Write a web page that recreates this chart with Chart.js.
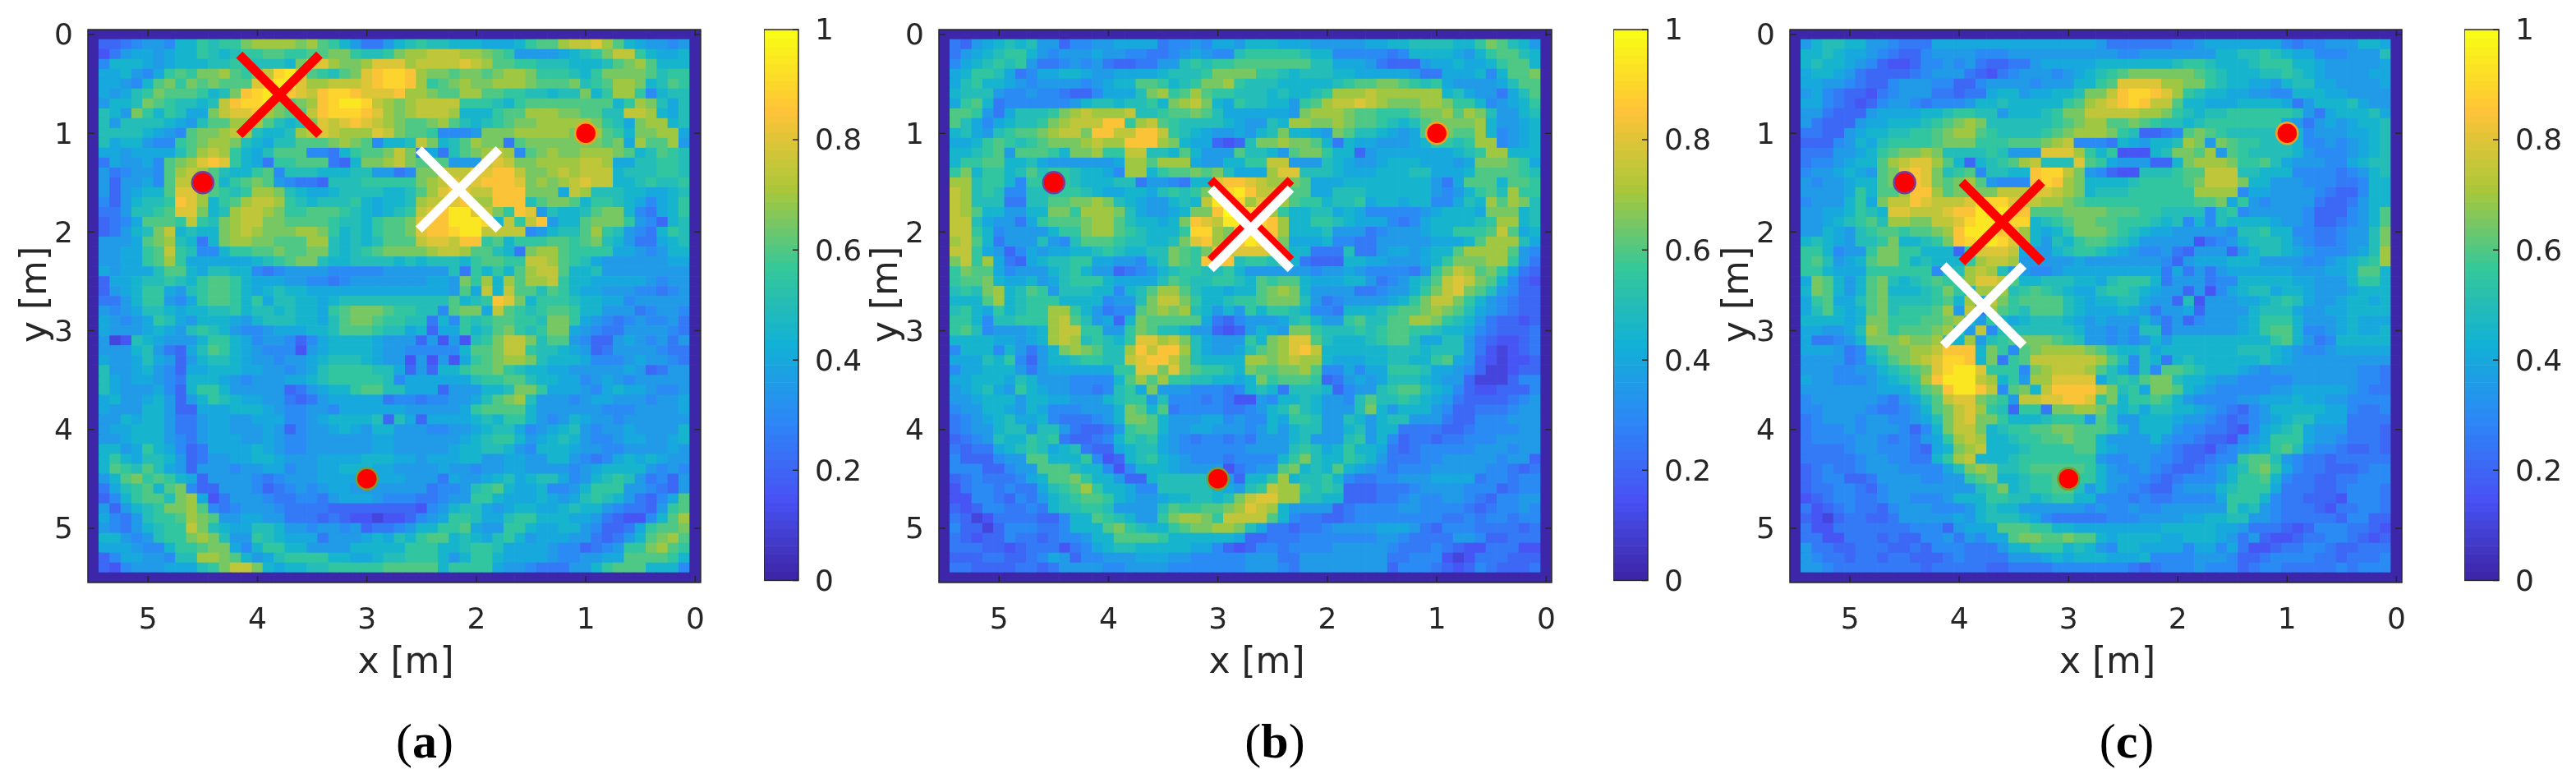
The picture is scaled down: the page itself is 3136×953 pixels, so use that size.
<!DOCTYPE html>
<html lang="en">
<head>
<meta charset="UTF-8">
<title>Localisation maps</title>
<script src="https://cdn.jsdelivr.net/npm/chart.js"></script>
<style>
    body { margin: 0; background: #fff; width: 3136px; height: 953px; position: relative; overflow: hidden; }
    canvas { position: absolute; top: 0; }
    /* the big X markers make Chart.js keep 80px clear around the plot, so the map canvases stick out */
    canvas.map { top: -54px; }
    .cap { position: absolute; top: 868px; width: 200px; text-align: center; font: 60px "Liberation Serif", serif; color: #000; }
</style>
</head>
<body>
<canvas id="mapA" class="map" width="943" height="894" style="left:0"></canvas>
<canvas id="barA" width="136" height="740" style="left:930px"></canvas>
<canvas id="mapB" class="map" width="943" height="894" style="left:1036px"></canvas>
<canvas id="barB" width="136" height="740" style="left:1964px"></canvas>
<canvas id="mapC" class="map" width="943" height="894" style="left:2072px"></canvas>
<canvas id="barC" width="136" height="740" style="left:3000px"></canvas>
<div class="cap" style="left:417px">(<b>a</b>)</div>
<div class="cap" style="left:1452px">(<b>b</b>)</div>
<div class="cap" style="left:2489px">(<b>c</b>)</div>
<script>
// map cells, one letter per cell: a = 0, b = 0.05 ... u = 1, six groups of nine columns, y = 0.1 to 5.4
const panelA = [
'eefghhgjj lkllnoooo nomljhffh jklkkjjji iijlmmopp qomjihhgh',
'dfhiihijj lkjkllmml lmmnnlkkl noopppoon mlhhhhijk lnppljiij',
'gjjjihijj jkkllkkkj nqqonnoqq qoppppqpo mmllkkkjj jkmnomjjj',
'iijhgilml nnomlnpst qmlkmnqrs sronnmnnm noonlllkj lnnnnmkll',
'iihgjmnln mnmmmqrtt qoopppqrs srolmnonn ooonmmmnk lmoonjkml',
'ihiklnmmm ljknrsttr qprssrqqq roonmmoom mllkkjkkn jloolgjkk',
'hjjknmlkk jkprsstnm norsttspo nopppplll kjlmmmmmm mmjlonkik',
'kjhnljlki inpqqronm mprsssrqo nopppojjj lmmooonnm mkkppojik',
'khkkkkjih kmmooomkj knqpqrqpo nmmnomkjk lmnnooooo nlkinoojk',
'kkkkjihgm nnopokjjk opqpoooqp nmmlggghn nnooooonn omljnnooi',
'kijjhgglm noonkjikk mmmnonmgj jkpnjkmon nfmnnnnnn nmniommoh',
'iihiiiikm opoljikmm mggfjlmmn pnfifkmno pogmnonno oonmjkmlk',
'fihhigmno qrqljifll mmmfejnno pnmmmhhhp qpnnoooop poiikkllk',
'hfghhgmop omkjjlmgk kkjjjkkhh fgnnpppqq rrpnnopop ppjkkkllk',
'hehhigmpp nmjlmnmhg ffekkklll llnopqpqr rrqnonopq ppjjklkkl',
'hehijjmqq omlkloonk jiijkkkkj jkmoqrqpp rrrnnnipo kkkjjiijk',
'gehjkklrq ojlmoppol kjkkkljij jkoppqroo rrrkmnnmj llkjigijl',
'ffhkklmqq njkopponl lmmmlkjij klpqrttqp nlrqhkjjk mnnjgfijl',
'efgimmmlp lknoppnnm mmmlkkjlm mnqrrttts jplprhjjm nnnlhgejk',
'efhjknpjk jjnoponnn oonljkjlm mnqrrsttp pppghjkkm olkhgfjlk',
'hhhimnokj fjnoonnmm mookjkjkm mmpqqprrl mjlllmmlm nkjhffijk',
'hhiilmplk ggjllmmnm mnnkjklmn nnnoppomm kjfnoomll lliihghjj',
'hhiilmoli iiiiijklm nnkjjkkkk jkjkkkjlm mllppomlk ihhhhhhii',
'ihiiikmmj ikkjjgfgh hhhgggggh hhhhhkflj ljmoppmjj khhhhhhhh',
'eiijkklkj lmmljiiih hggfghhhh hhhiihnlo jomoopljj iiiiihghh',
'ehijllihk lmmljijkj jiiiiiiii iiiiihmip jpmmkmlji ihhhggfgh',
'ffhjllhgi lmmljlikk jjijkkkkk kkkkkmjkl rqnjlllkj jiighhhhh',
'hghikkjij jkkljkkjk jjilmnnnm llkkgmnni pmlklmmlj jhhhfghhg',
'ihghilkih jjjihjkkk jjikmnnml lkkfjglkl mmllknnli hgfghgghf',
'ihhhijihk lkjhgghii ijjkmmmlk kijeiiljk mnlklnnih gffhhhhgf',
'hcdkjihhh jlljighhg egijjjjih hhehdhdkl nppnkmmhg eehihghfh',
'hhhjkhfei kmljihggg dhijjjjih hgggggjmm npplkkjih efhhhhgff',
'ihhikiheh jkkjihhgh hijkkkjih hdhdhdilm noonkjjji ggghihhgf',
'khhijhgei ijjjiihhg hikllllkk iehejjlmm nlkjjiihh hhhihefhh',
'kihiihgfj jjihghhhi ijklllllk giiiiiikl lmmkjjiig hihghhhhh',
'kihhhigej lljhhhhhe fhijjlmmk kiiiehhhj jknnliiih gijiihggh',
'ijhhijheh jlkjiihhf efhiiiiif ggfgghhik mnokhhhgh iihhhghhi',
'ihhhjjhee iiijjjihg ghhgiiiii ihhhhhilm mmmjhhhhh hggghhhhi',
'hhjijjhff hiihhiiig ghijjjjke kieiiiijk jlljhghji hhghhhhhh',
'hiijjjhff hiihhhihe ghhijihjj hhhgghhij kkighijkh ghhihhhhj',
'hhijjjhgf hiiihhihg ghhhhhhii hhhhhhijk lljhijkjh gghiihhij',
'jjhiljige fiiiijihg ghhhhhhii hhhhhijjk kjhgjjjih hgghhhhih',
'jljikkjhe fhhiijjih hhiiiijjj iihiiijjh hiihhjjhg fgijijihh',
'jmlkmkihe hhhghhiig hhiijjjii hhhhihhgh hiihhhhgh ijjjjhghg',
'hjmnlmlji ehhhhgfgh hhiiiijii ihhhfihhi jkijkkigh jklkhfgeh',
'fiklmjmng eehhhgefg hghiihhhh hhhfgghkl mjiijgghj lllhhgfeh',
'egjlmmkno idfhhhgff ggfhiiihg ggffghhll jiiijihik lkjhfegim',
'hehjklnno mgfghhhgf fffeeeeee eedghjkki hijjiijkj jhgffehlm',
'igfhkllmo nmhhiihhf ffefeddcd deghillki iklljjjii hfeddgjmo',
'hgfhjkllp nkjiikkjh hghhgheff ghjjllmih hlljiijjh geefilmmn',
'jjhghklln onkhhlkji iifhhhiji kjlmmjkji kljhiiihh fefhjmnom',
'iiihggjll mnnigjllj jhhhhjjjj jllljjkll kiiiihgge fghllnoml',
'egiihhgkk oonmjhikl llljjiijk kllljhjll jiiiihggh hiimmmmlj',
'edghhhiii klnppnjij jkklllllm mmmmjllll ihhgfffhh jlmmmjjjg'
];
const panelB = [
'fehijkjkh hegghhiii ifgghgiih jjjiiihhh hhiijjkkk kjjlnmkjh',
'fhijklljh ghhhihhgg ffghihggk lllllkjjg ggggfgjjj jihjlmmkj',
'gijklklhf fghghfeef fhhklkllm mmmmmmkki iihfeeehi ijiijlmmj',
'ijllkifgi ijjihhiii ijkkklnnn nllkjkkkj jiiiiihff iiijgjmmn',
'ikljjihgh hhhghijjm mljklnnol kkkjjjjjk lmmnnmlkl ihhhhikmm',
'jkkkhgghg gfeegiiik nolmomllk kkjkjjklo oopoooooo jkihhfikm',
'ilmjfgggg gghjkkjkk ljnopnjil kkjjhlmop pqponnnoo nlljghijl',
'mmlhfikkk lnopooopk klmmnmkii iiiihnooo nmmlllmnn omonkhhjk',
'mkigijkkl noppprrlo pmlkkkkji hhkjoonno nmmlkjkmn nnnojhhij',
'jkihklmmn oppnrrppr rplkjihhi hjknjjihn mkkjihimo nmmojghij',
'iijlmlklm nnnopoorr ronjiiede knnonnmjf jiihhhijl lklooghij',
'jjklmhmmm ljnnollpp kkjmjhhhm kkjhmnnlj jehiiiiii ijkloojjj',
'jllmmjjki hhhhhhioo moooihhjj llpphhhkj ihhijjjii ihinnnmli',
'lnjlljkmk llkjjigoo jlmmnmnki iioqqkkkj iiijjjkki iijmmmmlk',
'ooklljgll mlkjjjkkf hhgfjjqrr qpoonmiii jjjjjjjjh fimmmjmml',
'poklkggkk lllkjiijj iklklnsst rppommiik kkjjjjjjh ghjlmkoll',
'pokkkffkk mmnnonkji hhjkjptts oqromlljk klijjijjg gikjomonk',
'pomjjhhjj nnlooonki hhijnnrut sroljjkki jiggggghi jjjinnnjk',
'ppkihhfil mmmnoomkj jijnrqptt ssrojjllk jiiigfgij jjjkloojk',
'ppljghhhh jllnoomlk jjjlssonr tsrojjjkh hhfghhhij jlllmpmij',
'opmjfhhhk hgkmmmlkk jjknqronr tsqniiijg gffhhhhhi iijmoooki',
'pplihegih iijjklkjj kknmlnqpq qqpmjjfff kffhiihij jmoooomhg',
'nploifeij kklliihhg jknmlrrrk llkmjfeee jjiihhhij lnnnoolhf',
'lnmmighhh jkljhhefg hjkllkklj hhhhhhghh ihggggfhl npomnlife',
'lmmnjiijh ikllljiii ikmlkkllk jmlmmjiii jjhfghjkm pqpnmjged',
'klknojkml hkkkjjgjk moomkjjij jmnonjhhh hffghhjln pqnmkhgee',
'jjjmojkll ljjjjghhk nppnljjkl lmnnnkhfg hhhhijlnp pnljhgfee',
'kljiljkll ooljhfggm nonokjhjh ljllkjggf jjjklmmno nmkihgfee',
'lljgkklll opmkhiejn mmmmmifeg hhhikljhh lmkkmmoon lkjhfeede',
'lmkghhhij oppllhhln mkkjhhede hjihnnlkk klklmmllk jjigfeeef',
'jjjjiihij opoklkjlq qopnkihhh ljnoqqmkj jjklmmkii kkhfeddef',
'gjjjgjhfh jnonmkkor prrokihhi kmnoqrpjj jjjjkkkjk kkhfdcdef',
'iiikjlgeh jjkllkkpq rrpnkjjjj oonopooji iijjkkjjl mihedcdde',
'giijjjhfh iiiiiillq qnqnmllkj nmmnnomgg igiilllki ihgeccdee',
'iijjjikjh hhggggjmo mollkkjji jnlmmmlef hihikkkji hhecccegg',
'hijkihlji hhggfgkli nhhhgggfg jkjfkkkje ghhklmmkj igeddeeeg',
'hhijjjhjj iihhhjkll hkgggfgfd dhgjjkjhh gkmkklkji hfeeeefgh',
'ghhjjihji ggghhhjnm jmfggggff ghjkmkjhh hknjhjjjh geefffghh',
'fghijkiij gfffghjnn mjhhhiigh ggjillkhh kjhjkkhhh feeggghhh',
'fghhjkkhk khfeefhlm mjhhiihhh ghjhjkkhh jkhjjffff eefgggghh',
'efghkjjlk lfeefgjlk lihgfggfg fhhhjkhhh klhjgeffe ffggghhhh',
'feffijklk ijkfeeijk kihgggggg hhhhklkij ljjifefgg ggghhhghh',
'geeeghhmm jjjlgdejk ljihgggfg gggjlnkjj lkjhfffgg hhhhhghhe',
'gggeeghhm mmkjjgdgj jjihhhhdf ghhmnjkjm jihgfgggh hhhhggfef',
'efgfffgij mmnljjhee jkkkkkhhe jjlojkklj gffgghhhi iiifggfgg',
'dfggfgffi klmoljjig gkkkkkjih klpoolklk eeefffghh hhgggefgg',
'ddggfegfh jklmmljih hijjkkjkn pqqookkjj eeeffghgg hhgfegghh',
'edeggffgf jkkllkhhh hkmllmmno qpojhhhhe fgggghhgg ggfefgghg',
'fecdffffe egjjmlkjh hlnoonlpp ppmjgffee fgggggggg ffgfggfgg',
'geecegggf fgjjjmnlk jjlmnnoon kiffeffgh hhhiiihfe gggffffef',
'fedeegffe fgghjjmmm mljjjjjji eefffgggg ggghhgfff fhhgeefff',
'fffeedeff fdfgijkkj jjjjiiged eggfggggh hhhhgfffg feddfffdd',
'eeeffeefg ihegghhhi iihhggggg hhhffhhhh hhhhffggg dcdfffeee',
'ffeeeeffe fhhhhgghh hhggggggg hhhgfhhhh hhhhegggf edegfeeef'
];
const panelC = [
'hjkkjjhhg fffiiiiii iiiiiiiii hffffffgg hiiiiiiig fgghhhjji',
'jjkjiihgf eeghhhhgg ghhhhhhhh hhgghhhhh hhjjkklkj iiggghhhk',
'jkjjihged degghghfe effhiiiii jjjjjjjkl lkjjjklll jjihhhhhi',
'ijjihfeee efghhhfed fghhhghij klmnnnnnn mlkjjjkkl kjihhhhii',
'iihhgfeeg hhhggeegh hhhghhhjj lmqqqqoon nlkjjiihj kkiihhhhi',
'higfeedfg hhhffeffi jjhiijjkn nprssrqol kjjiihhgg jjjiihhhh',
'iigfedegh hgfggghjj kjjjjjlmo pqrsrppmj jiiijjjji fhjjjkihh',
'hhfeeehii iijjkllkk hjjjklnnp ppppoonlk jkkllllll khfijjjki',
'hfeeehiij jjklmnonk kkkkklmno ommnmlkkj kllllllli hfhihijjk',
'ffeehijjk kllmnooml kkkklmnoo onlkeefgm nmlkkkkkk jghhhiijk',
'eeeghjikl lllmnnnll lmmmnopgg gfjihjjko nhnmllkkk jgghghijk',
'fffhhijlm nnonkkkkl khhhqqqol jldddjknn mohmlkkkk jhggghijk',
'fgghijjmo pqqomjejk lmopkkkqm lihhheejn ooonllmki hhhggijkk',
'ghhijihmn qrqnklmgk kjjrsspnh geddkkklm mpppkkjjj ggggfghjk',
'hghhijjmn qrqnmnomh gggrsronj jjjkllllm npppnjjhh hgggffgjj',
'hhhhiljmm orromnnnn pppqqponj kkkllllll oooogiihh hhgfeegjj',
'ghhhjlinp prqpppqss sqppoonml lllllllll mmnilhghh hhfeefhjj',
'hhiijlkjq qpppqrrts trrmmmnnn nmmmllkkk kgklghhhh hgeeeghjm',
'hhijklmko onnppqstt tssjklmnn mmlllkjkg jgkjjjjih hgeefghjm',
'hhjihklmm lmmnorttt rqojijlnn nmlkjiihh hhhgkkljj ggffghhkn',
'jkjihkkln jjklnrstt sqojhkjlm mlkjhhhhh dfghjkkkj hgffghhkn',
'lljghhlnn lljjjelqq qpihhjkll kjihgghfe hhhehjkkj ihggghiko',
'lmkhijmnn ljkjjjlop pohhhhhih hhhhhhgeh iiijjjhhh hgghijklo',
'lljiiilll lllgjkopo khhgghiii iiiiiifif hfhiiiiii hhhiijmmj',
'inmjhjmnk jklmlmoqq pmjjkkkjj ikllljfhh hfggjjjjj iihhhjllj',
'jnmjhjmnj jjklnljoo oklmlkjii kllkjihhe hdgijkkij jihhhijjj',
'ilmiikmnk kkklmjoip nlmmmmkji jjkkihhek dhhhiijkl kihhijjij',
'ikmjijmnk lllmohpfo mlkmmmkji iijihfhhi ehhhhjkkk ihhiijjjj',
'jjjjijnnl llmmnojhl jijkkkjih ihhhjhfhe ghhhijlll jhhhijiii',
'iihhikonl mmmnokhpg kkkkkkkjh hghgkkfhh hhhhijlmm jgghijiij',
'iffghjnnn onnokjohk lmnnnmlkh hghghjhjj jjjjjjjlm jhfgjjjjj',
'iiihfgkln nooprrrjn lgmnoooon mkjjkijjj jjjjkkkji hgghiiiii',
'hhhhfgjkm nopqssrjn flmpppppp omkgkjfjk jjjjjjkji hhhhhhhhh',
'hhhgghhjk lmnqsttql llgnopppo mkigkgmml kjjjihghh hhhhhhggf',
'ihhggghij klortttpo jlhooqqqq iklkmnnkj jihhggggg hhhhhhggf',
'hhhhhhhii ikmnrttrp gmnjprrrr pnklinnmj ihggggghh iiiiihgff',
'ghhhhhhgf hikmpqqnm lhppqqrrq lnjllmljh gggghhiii jiihhgggg',
'gghhhhgff ghjmnpqol kellfnnoo nkjkikkjj ihgfeghjj jjjiigffg',
'fghhhghhg ghiknpqnn ljjjklllh mkhhjjjih hgfefghij kkiiiffff',
'fggghghhh gegjnppnj kllmmnnmm mljhjjjhg gffedgijk lihhhfffe',
'fgggghhgf gfhilopoj jkllmmnmm jhhhhjhgg feedghill lihhgfffe',
'ffffghhgg gfeijnopj jjkllllmm jihhhhgfe edfghijlm khggfeefe',
'fffffghhg gffjlopjj jklllllll hgghhggfe efgglmmkh gffefffff',
'efgffghhh ggggiknon kklmmmmml jhgghgfee fghjkmnli gffeeefgg',
'efggeefhh hhgghhlmn jjkllmmll jhhggfefg gghjllmjg ffeeffggg',
'effggfegh hhhhhhhkl njkllmmkh jhggfeegh hhjklllif ffeefgggf',
'defggffgh hggghjjjl lkkjklljj gggfgffgg ggillljgf feeedgggf',
'fdefgffeg hhhggghjk jjhhhhhhg hgghgghhh hhhljkhgf ffedffggf',
'edceffeef hhhhhihjk kkjigffff fggghhhhi ijjkkhhgf ffffeggee',
'fddffffff fgggehiii mmmlljjii iiiiiijjj jjiihfffe degggffed',
'ffddfffef eegghfhgi imnnmmnmm jijjjjiij jjihfhedd effggfede',
'hffeefffe efegggfff hjjllljkj hgjjiiiig iigifddef fggfeefff',
'hgffeffef feeefgfff fhhhijijj jiiijgggg hhhgeefgg ggffefffg',
'hhgffffff ffefffffe effffgggg gggfefggg hgggefggf ffffgfggg'
];

const axisTicks = [0, 1, 2, 3, 4, 5];
const barTicks = [0, 0.2, 0.4, 0.6, 0.8, 1];

// sources and estimates in metres, x and y per panel
const dotX = [4.5, 1, 3];
const dotY = [1.5, 1, 4.5];
const redX = [[3.8], [2.7], [3.61]];
const redY = [[0.61], [1.88], [1.9]];
const whiteX = [[2.16], [2.7], [3.78]];
const whiteY = [[1.57], [1.968], [2.745]];

const dotEdges = ['#743d9e', '#f5a321', '#7f9a2e'];
const PARULA = [[.2422,.1504,.6603],[.2810,.3228,.9579],[.1786,.5289,.9682],[.0689,.6948,.8394],
                [.2161,.7843,.5923],[.6720,.7793,.2227],[.9970,.7659,.2199],[.9769,.9839,.0805]];

function parula(v) {
    var p = Math.min(v, 1) * (PARULA.length - 1);
    var i = Math.min(Math.floor(p), PARULA.length - 2);
    var t = p - i;
    var c = PARULA[i].map((a, k) => Math.round(255 * (a + (PARULA[i + 1][k] - a) * t)));
    return 'rgb(' + c.join(',') + ')';
}

const TEXT = '#262626';
const FONT = '"DejaVu Sans", sans-serif';

// box and inward tick marks, MATLAB style
const frame = {
    id: 'frame',
    beforeDraw(chart) {
        // MATLAB sits its y labels a little under the tick
        chart.scales.y.getLabelItems().forEach(item => { item.options.translation[1] += 3; });
    },
    afterDraw(chart) {
        var a = chart.chartArea, ctx = chart.ctx, s = chart.scales;
        ctx.save();
        ctx.strokeStyle = TEXT;
        ctx.lineWidth = 1.5;
        ctx.strokeRect(a.left, a.top, a.right - a.left, a.bottom - a.top);
        ctx.beginPath();
        if (chart.options.indexAxis === 'y') {
            s.y.ticks.forEach(t => {
                var p = s.y.getPixelForValue(t.value);
                ctx.moveTo(a.right, p); ctx.lineTo(a.right - 7, p);
            });
        } else {
            s.x.ticks.forEach(t => {
                var p = s.x.getPixelForValue(t.value);
                ctx.moveTo(p, a.top); ctx.lineTo(p, a.top + 8);
                ctx.moveTo(p, a.bottom); ctx.lineTo(p, a.bottom - 8);
            });
            s.y.ticks.forEach(t => {
                var p = s.y.getPixelForValue(t.value);
                ctx.moveTo(a.left, p); ctx.lineTo(a.left + 8, p);
                ctx.moveTo(a.right, p); ctx.lineTo(a.right - 8, p);
            });
        }
        ctx.stroke();
        ctx.restore();
    }
};

function makeMap(id, rows, n, plotWidth) {
    var cells = [], colors = [];
    var blank = 'a'.repeat(54);
    var grid = [blank].concat(rows.map(r => r.split(' ').map(g => g.padEnd(9, g.slice(-1)).slice(0, 9)).join('')), [blank]);
    grid.forEach((row, r) => {
        for (var c = 0; c < 56; c++) {
            // columns run from x = 5.5 on the left down to x = 0
            var code = (c === 0 || c === 55) ? 'a' : row[c - 1];
            var v = (code.charCodeAt(0) - 97) / 20;
            var x = (55 - c) / 10, y = r / 10;
            cells.push({ x: x, y: [y - 0.05, y + 0.05] });
            colors.push(parula(v));
        }
    });
    var pts = (xs, ys) => xs.map((x, i) => ({ x: x, y: ys[i] }));
    new Chart(document.getElementById(id), {
        type: 'bar',
        data: {
            datasets: [
                { type: 'scatter', data: pts(whiteX[n], whiteY[n]), pointStyle: 'crossRot', pointRadius: 69, borderColor: '#fff', borderWidth: 11 },
                { type: 'scatter', data: pts(redX[n], redY[n]), pointStyle: 'crossRot', pointRadius: 69, borderColor: '#f00', borderWidth: 11 },
                { type: 'scatter', data: pts(dotX, dotY), pointRadius: 13, backgroundColor: '#f00', borderColor: dotEdges, borderWidth: 2.5 },
                { data: cells, backgroundColor: colors, barPercentage: 1, categoryPercentage: 1, borderWidth: 0 }
            ]
        },
        options: {
            responsive: false,
            animation: false,
            events: [],
            layout: { padding: { top: 90, right: 943 - 107 - plotWidth } },
            plugins: { legend: { display: false }, tooltip: { enabled: false } },
            scales: {
                x: {
                    type: 'linear', reverse: true, offset: false, min: -0.05, max: 5.55,
                    grid: { display: false }, border: { display: false },
                    afterBuildTicks: s => { s.ticks = axisTicks.map(v => ({ value: v })); },
                    // reversed axis makes the label overhang come out huge, so drop it
                    afterFit: s => { s.height = 131; s.paddingLeft = 0; s.paddingRight = 0; },
                    ticks: { autoSkip: false, maxRotation: 0, padding: 17, color: TEXT, font: { family: FONT, size: 36 }, callback: v => String(v) },
                    title: { display: true, text: '  x [m]', color: TEXT, font: { family: FONT, size: 44 }, padding: { top: 0, bottom: 6 } }
                },
                y: {
                    type: 'linear', reverse: true, offset: false, min: -0.05, max: 5.55,
                    grid: { display: false }, border: { display: false },
                    afterBuildTicks: s => { s.ticks = axisTicks.map(v => ({ value: v })); },
                    afterFit: s => { s.width = 107; s.paddingTop = 0; s.paddingBottom = 0; },
                    ticks: { autoSkip: false, padding: 10, color: TEXT, font: { family: FONT, size: 36 }, callback: v => String(v) },
                    title: { display: true, text: '  y [m]', color: TEXT, font: { family: FONT, size: 44 }, padding: { top: 18, bottom: 0 } }
                }
            }
        },
        plugins: [frame]
    });
}

function makeBar(id) {
    var levels = [], colors = [];
    for (var k = 0; k < 64; k++) {
        levels.push({ y: (k + 0.5) / 64, x: [0, 1] });
        colors.push(parula(k / 63));
    }
    new Chart(document.getElementById(id), {
        type: 'bar',
        data: { datasets: [{ data: levels, backgroundColor: colors, barPercentage: 1, categoryPercentage: 1, borderWidth: 0 }] },
        options: {
            indexAxis: 'y',
            responsive: false,
            animation: false,
            events: [],
            layout: { padding: { top: 36, bottom: 31 } },
            plugins: { legend: { display: false }, tooltip: { enabled: false } },
            scales: {
                x: { type: 'linear', min: 0, max: 1, display: false },
                y: {
                    type: 'linear', position: 'right', offset: false, min: 0, max: 1,
                    grid: { display: false }, border: { display: false },
                    afterBuildTicks: s => { s.ticks = barTicks.map(v => ({ value: v })); },
                    afterFit: s => { s.width = 94; },
                    ticks: { autoSkip: false, padding: 12, color: TEXT, font: { family: FONT, size: 36 }, callback: v => String(v) }
                }
            }
        },
        plugins: [frame]
    });
}

makeMap('mapA', panelA, 0, 746);
makeMap('mapB', panelB, 1, 746);
makeMap('mapC', panelC, 2, 745);
makeBar('barA');
makeBar('barB');
makeBar('barC');
</script>
</body>
</html>
